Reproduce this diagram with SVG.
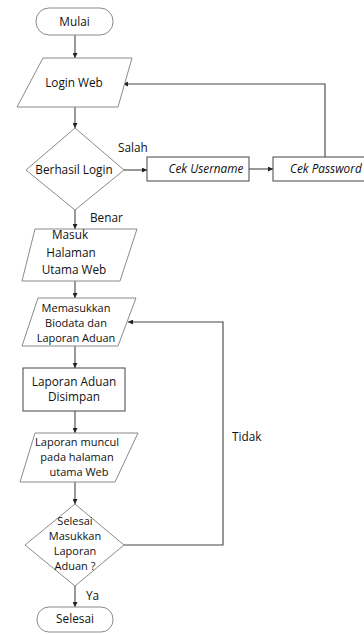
<svg xmlns="http://www.w3.org/2000/svg" width="364" height="634" viewBox="0 0 364 634">
<defs>
<marker id="ah" viewBox="0 0 8 8" refX="8" refY="4" markerWidth="5" markerHeight="5" orient="auto" markerUnits="userSpaceOnUse">
<path d="M0,0 L8,4 L0,8 z" fill="#222"/>
</marker>
<style>
.sh{fill:#fff;stroke:#8a8a8a;stroke-width:1}
.bx{fill:#fff;stroke:#444;stroke-width:1}
.ar{fill:none;stroke:#444;stroke-width:1.1;marker-end:url(#ah)}
text{font-family:"Open Sans","Noto Sans",sans-serif;font-size:11.8px;fill:#111}
.m{font-size:11px}
.c{text-anchor:middle}
.i{font-style:italic}
</style>
</defs>
<rect width="364" height="634" fill="#fff"/>
<g id="connectors">
<line class="ar" x1="75" y1="35" x2="75" y2="58"/>
<line class="ar" x1="75" y1="107" x2="75" y2="128"/>
<line class="ar" x1="124" y1="170" x2="147" y2="170"/>
<line class="ar" x1="249" y1="169" x2="273" y2="169"/>
<polyline class="ar" points="325,157 325,84 123,84"/>
<line class="ar" x1="75" y1="210" x2="75" y2="229"/>
<line class="ar" x1="75" y1="281" x2="75" y2="298"/>
<line class="ar" x1="75" y1="346" x2="75" y2="368"/>
<line class="ar" x1="75" y1="411" x2="75" y2="433"/>
<line class="ar" x1="75" y1="482" x2="75" y2="504"/>
<polyline class="ar" points="124,545 223,545 223,322 128,322"/>
<line class="ar" x1="75" y1="586" x2="75" y2="607"/>
<text x="118" y="152">Salah</text>
<text x="90" y="222">Benar</text>
<text x="232" y="441">Tidak</text>
<text x="86" y="600">Ya</text>
</g>
<g id="mulai">
<rect class="sh" x="36" y="8" width="77" height="27" rx="13"/>
<text class="c" x="74.5" y="25.5">Mulai</text>
</g>
<g id="login-web">
<polygon class="sh" points="43,58 132,58 118,107 17,107"/>
<text class="c" x="74" y="87">Login Web</text>
</g>
<g id="berhasil-login">
<polygon class="sh" points="75,128 124,170 75,210 26,170"/>
<text class="c" x="74" y="174">Berhasil Login</text>
</g>
<g id="cek-username">
<rect class="bx" x="147" y="157" width="102" height="24"/>
<text class="c i" x="206" y="173">Cek Username</text>
</g>
<g id="cek-password">
<rect class="bx" x="273" y="157" width="100" height="24"/>
<text class="i" x="290" y="173">Cek Password</text>
</g>
<g id="masuk-halaman">
<polygon class="sh" points="35,229 137,229 120,281 22,281"/>
<text class="c" x="70" y="239">Masuk</text>
<text class="c" x="71" y="257">Halaman</text>
<text class="c" x="74" y="274">Utama Web</text>
</g>
<g id="memasukkan-biodata">
<polygon class="sh" points="38,298 136,298 118,346 22,346"/>
<text class="c m" x="76" y="312">Memasukkan</text>
<text class="c m" x="76" y="327">Biodata dan</text>
<text class="c m" x="76" y="342">Laporan Aduan</text>
</g>
<g id="laporan-disimpan">
<rect class="bx" x="23" y="368" width="102" height="43"/>
<text class="c" x="74" y="386">Laporan Aduan</text>
<text class="c" x="74" y="401">Disimpan</text>
</g>
<g id="laporan-muncul">
<polygon class="sh" points="35,433 138,433 115,482 20,482"/>
<text class="c m" x="77" y="446">Laporan muncul</text>
<text class="c m" x="77" y="461">pada halaman</text>
<text class="c m" x="79" y="476">utama Web</text>
</g>
<g id="selesai-masukkan">
<polygon class="sh" points="75,504 124,545 75,586 25,545"/>
<text class="c m" x="75" y="525">Selesai</text>
<text class="c m" x="75" y="540">Masukkan</text>
<text class="c m" x="75" y="555">Laporan</text>
<text class="c m" x="75" y="570">Aduan ?</text>
</g>
<g id="selesai">
<rect class="sh" x="37" y="607" width="76" height="25" rx="12"/>
<text class="c" x="75" y="623">Selesai</text>
</g>
</svg>
